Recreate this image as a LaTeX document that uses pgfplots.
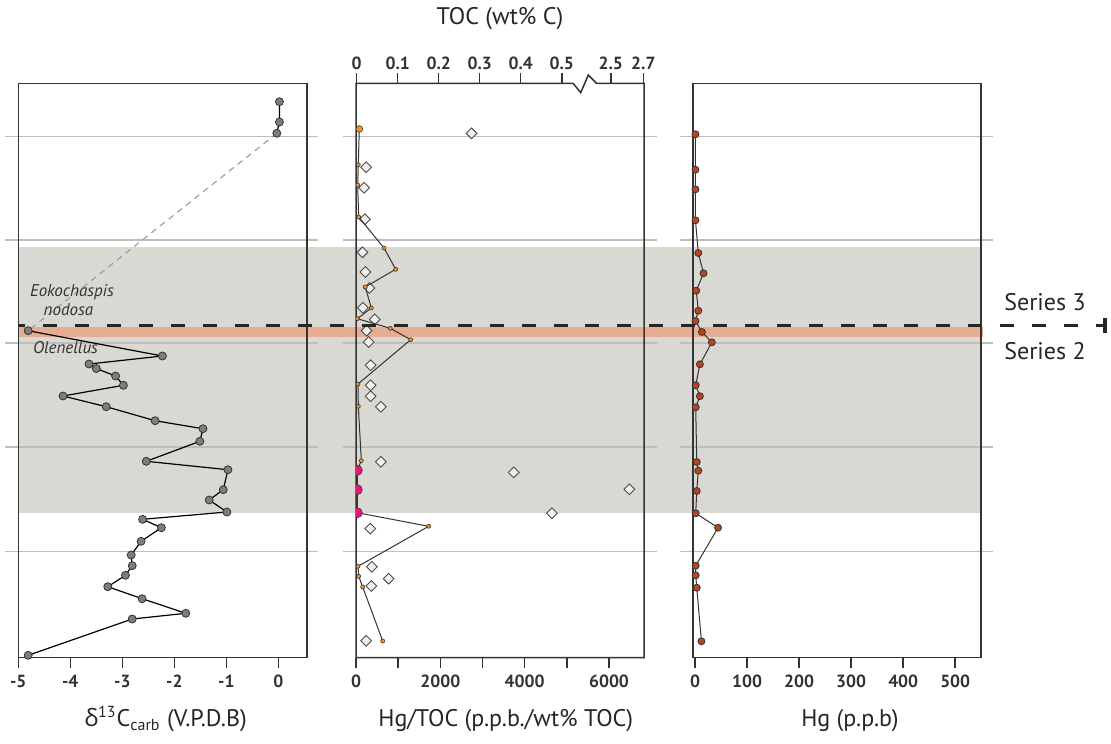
\documentclass[border=0pt]{standalone}
\usepackage{fontspec}
\setmainfont{PT Sans}
\newfontfamily\grk{Open Sans}
\usepackage{pgfplots}
\usepackage{pgfplotstable}
\pgfplotsset{compat=1.18}

\definecolor{bandgray}{RGB}{217,216,210}
\definecolor{bandorange}{RGB}{231,173,145}
\definecolor{gridgray}{RGB}{190,190,190}
\definecolor{frame}{RGB}{51,51,51}
\definecolor{cgray}{RGB}{125,125,125}
\definecolor{hgtocorange}{RGB}{247,147,30}
\definecolor{lowpink}{RGB}{229,25,125}
\definecolor{hgred}{RGB}{185,68,29}

% depth is measured down the section (arbitrary units, top = 83.5)
\pgfplotstableread{
depth d13c
101.7  0.02
122.0  0.02
133.3 -0.03
}\dctop
\pgfplotstableread{
depth d13c
133.3 -0.03
330.7 -4.81
}\dcgap
\pgfplotstableread{
depth d13c
330.7 -4.81
356.0 -2.23
364.0 -3.64
368.5 -3.50
376.0 -3.13
385.3 -2.98
396.0 -4.14
406.7 -3.31
420.7 -2.37
428.7 -1.45
441.3 -1.51
461.3 -2.54
469.7 -0.97
489.7 -1.06
500.0 -1.33
512.0 -0.99
519.3 -2.61
527.7 -2.25
541.3 -2.64
555.0 -2.83
565.7 -2.81
575.3 -2.94
586.7 -3.28
598.7 -2.62
613.3 -1.78
619.0 -2.81
655.3 -4.81
}\dcmain

% flag: 0 normal, 1 low (pink), 2 top sample
\pgfplotstableread{
depth hgtoc flag
129.0   78 2
164.7   55 0
185.0   40 0
217.0   64 0
248.0  664 0
269.3  941 0
287.0  220 0
308.0  363 0
318.7   31 0
328.3  813 0
339.7 1297 0
384.0   47 0
406.3   55 0
460.7  126 0
470.3   30 1
489.7   30 1
512.7   30 1
526.3 1724 0
566.3   47 0
576.3   64 0
587.0  159 0
641.0  633 0
}\hgtoc

\pgfplotstableread{
depth toc
133.3 0.280
167.3 0.023
187.7 0.018
219.3 0.020
252.3 0.014
272.0 0.021
288.0 0.031
307.7 0.015
319.3 0.044
330.7 0.024
342.0 0.029
365.3 0.034
385.3 0.034
396.3 0.034
406.7 0.059
461.7 0.059
472.3 0.383
489.3 2.614
513.3 0.476
528.7 0.033
566.7 0.037
578.7 0.078
586.0 0.036
640.7 0.023
}\tocdata

\pgfplotstableread{
depth hg
134.3 0.5
169.7 0.5
189.3 0.5
220.3 0.5
253.0 6
273.3 16
290.7 2
310.7 6
321.0 0.5
332.0 13
342.3 32
364.3 9
385.2 1
396.2 9
407.3 1
462.0 3
470.7 6
491.0 3
513.3 1
527.7 44
565.7 1
575.3 1
587.7 3
641.3 12
}\hgdata

\pgfplotsset{
  sheet/.style={
    scale only axis, width=555.5pt, height=371.5pt,
    at={(0,0)}, anchor=south west,
    xmin=0, xmax=1111, ymin=0, ymax=743, y dir=reverse,
    hide axis, clip=false,
  },
  panel/.style={
    scale only axis, width=144pt, height=287pt,
    anchor=south west,
    ymin=83.5, ymax=657.5, y dir=reverse,
    ytick=\empty,
    xtick pos=left, xticklabel pos=left,
    tick align=outside,
    major tick length=5pt,
    axis line style={frame, line width=0.75pt},
    tick style={frame, line width=0.75pt},
    tick label style={font=\fontsize{8.8}{10}\selectfont\bfseries, text=black!80},
    xticklabel style={anchor=base, yshift=-10pt},
    label style={font=\fontsize{12}{14}\selectfont, text=black!85},
    clip=false,
  },
}

\begin{document}
\begin{tikzpicture}

% background: bands, guide lines, middle frame with axis break
\begin{axis}[sheet]
\coordinate (nw) at (axis cs:0,0);
\coordinate (se) at (axis cs:1111,743);
\coordinate (Lsw) at (axis cs:18.3,657.5);
\coordinate (Msw) at (axis cs:356,657.5);
\coordinate (Rsw) at (axis cs:693,657.5);
\fill[bandgray] (axis cs:18.3,247) rectangle (axis cs:981,513);
\pgfplotsinvokeforeach{136.7,240,343,447,551.7}{
  \draw[gridgray, line width=0.6pt] (axis cs:5,#1) -- (axis cs:318,#1);
  \draw[gridgray, line width=0.6pt] (axis cs:343,#1) -- (axis cs:657,#1);
  \draw[gridgray, line width=0.6pt] (axis cs:680,#1) -- (axis cs:993,#1);
}
\fill[bandorange] (axis cs:18.3,326.7) rectangle (axis cs:982.7,336.7);
\draw[frame, line width=0.75pt] (axis cs:573.3,83.5) -- (axis cs:580.7,92.7)
  -- (axis cs:588.3,75) -- (axis cs:596.7,83.5) -- (axis cs:644,83.5)
  -- (axis cs:644,657.5) -- (axis cs:356,657.5) -- (axis cs:356,83.5)
  -- (axis cs:573.3,83.5);
\end{axis}

% carbon isotopes
\begin{axis}[panel, at={(Lsw)}, width=144.35pt,
  xmin=-5, xmax=0.55,
  xtick={-5,-4,-3,-2,-1,0}, xticklabels={-5,-4,-3,-2,-1,0},
  xlabel={{\grk δ}\textsuperscript{13}C\textsubscript{carb} (V.P.D.B)},
  xlabel style={at={(axis description cs:0.51,0)}, anchor=base, yshift=-34.5pt}]
\addplot[gray!75, line width=0.6pt, dash pattern=on 3pt off 2.5pt] table[x=d13c, y=depth] {\dcgap};
\addplot[black, line width=0.6pt, mark=*, mark size=2pt,
  mark options={fill=cgray, draw=frame, line width=0.4pt, solid}] table[x=d13c, y=depth] {\dctop};
\addplot[black, line width=0.6pt, mark=*, mark size=2pt,
  mark options={fill=cgray, draw=frame, line width=0.4pt, solid}] table[x=d13c, y=depth] {\dcmain};
\end{axis}

% TOC (top axis, broken between 0.5 and 2.5)
\begin{axis}[panel, at={(Msw)},
  axis line style={draw=none},
  xtick pos=right, xticklabel pos=right,
  x coord trafo/.code={\pgfmathparse{(#1>1)*(0.6195+(#1-2.5)*0.3976)+(#1<=1)*(#1)}},
  xmin=-0.0017, xmax=2.704,
  xtick={0,0.1,0.2,0.3,0.4,0.5,2.5,2.7},
  xticklabels={0,0.1,0.2,0.3,0.4,0.5,2.5,2.7},
  xticklabel style={anchor=base, yshift=11.8pt},
  xlabel={TOC (wt\% C)},
  xlabel style={at={(axis description cs:0.5,1)}, anchor=base, yshift=29.5pt}]
\addplot[only marks, mark=square*, mark size=1.9pt,
  mark options={rotate=45, fill=black!6, draw=black!70, line width=0.45pt}]
  table[x=toc, y=depth] {\tocdata};
\end{axis}

% Hg/TOC
\begin{axis}[panel, at={(Msw)},
  axis line style={draw=none},
  clip=true, clip mode=individual, clip marker paths=true,
  xmin=0, xmax=6830,
  xtick={0,1000,...,6000}, xticklabels={0,,2000,,4000,,6000},
  xlabel={Hg/TOC (p.p.b./wt\% TOC)},
  xlabel style={at={(axis description cs:0.52,0)}, anchor=base, yshift=-34.5pt}]
\addplot[frame, line width=0.5pt, no marks] table[x=hgtoc, y=depth] {\hgtoc};
\addplot[only marks, mark=*, mark size=1pt,
  mark options={fill=hgtocorange, draw=frame, line width=0.3pt},
  restrict expr to domain={\thisrow{flag}}{0:0}] table[x=hgtoc, y=depth] {\hgtoc};
\addplot[only marks, mark=*, mark size=1.7pt,
  mark options={fill=hgtocorange, draw=frame, line width=0.3pt},
  restrict expr to domain={\thisrow{flag}}{2:2}] table[x=hgtoc, y=depth] {\hgtoc};
\addplot[only marks, mark=*, mark size=2.5pt,
  mark options={fill=lowpink, draw=frame, line width=0.3pt},
  restrict expr to domain={\thisrow{flag}}{1:1}] table[x=hgtoc, y=depth] {\hgtoc};
\end{axis}

% Hg
\begin{axis}[panel, at={(Rsw)},
  xmin=-4.2, xmax=549.6,
  xtick={0,100,200,300,400,500}, xticklabels={0,100,200,300,400,500},
  xlabel={Hg (p.p.b)},
  xlabel style={at={(axis description cs:0.545,0)}, anchor=base, yshift=-34.5pt}]
\addplot[frame, line width=0.5pt, mark=*, mark size=1.75pt,
  mark options={fill=hgred, draw=black!80, line width=0.4pt}] table[x=hg, y=depth] {\hgdata};
\end{axis}

% foreground: series boundary and labels
\begin{axis}[sheet]
\draw[black!85, line width=1.65pt, dash pattern=on 7pt off 8.95pt, dash phase=3.55pt]
  (axis cs:18.3,325.5) -- (axis cs:1107,325.5);
\draw[black!85, line width=1.65pt] (axis cs:1105,318) -- (axis cs:1105,333);
\node[font=\fontsize{12}{14}\selectfont, text=black!85] at (axis cs:1045,302) {Series 3};
\node[font=\fontsize{12}{14}\selectfont, text=black!85] at (axis cs:1045,351) {Series 2};
\node[font=\fontsize{8.5}{9}\selectfont\itshape, text=black!80] at (axis cs:72,292) {Eokochaspis};
\node[font=\fontsize{8.5}{9}\selectfont\itshape, text=black!80] at (axis cs:68.5,310) {nodosa};
\node[font=\fontsize{8.5}{9}\selectfont\itshape, text=black!80] at (axis cs:65.5,348) {Olenellus};
\end{axis}

\pgfresetboundingbox
\path[use as bounding box] (nw) rectangle (se);
\end{tikzpicture}
\end{document}
